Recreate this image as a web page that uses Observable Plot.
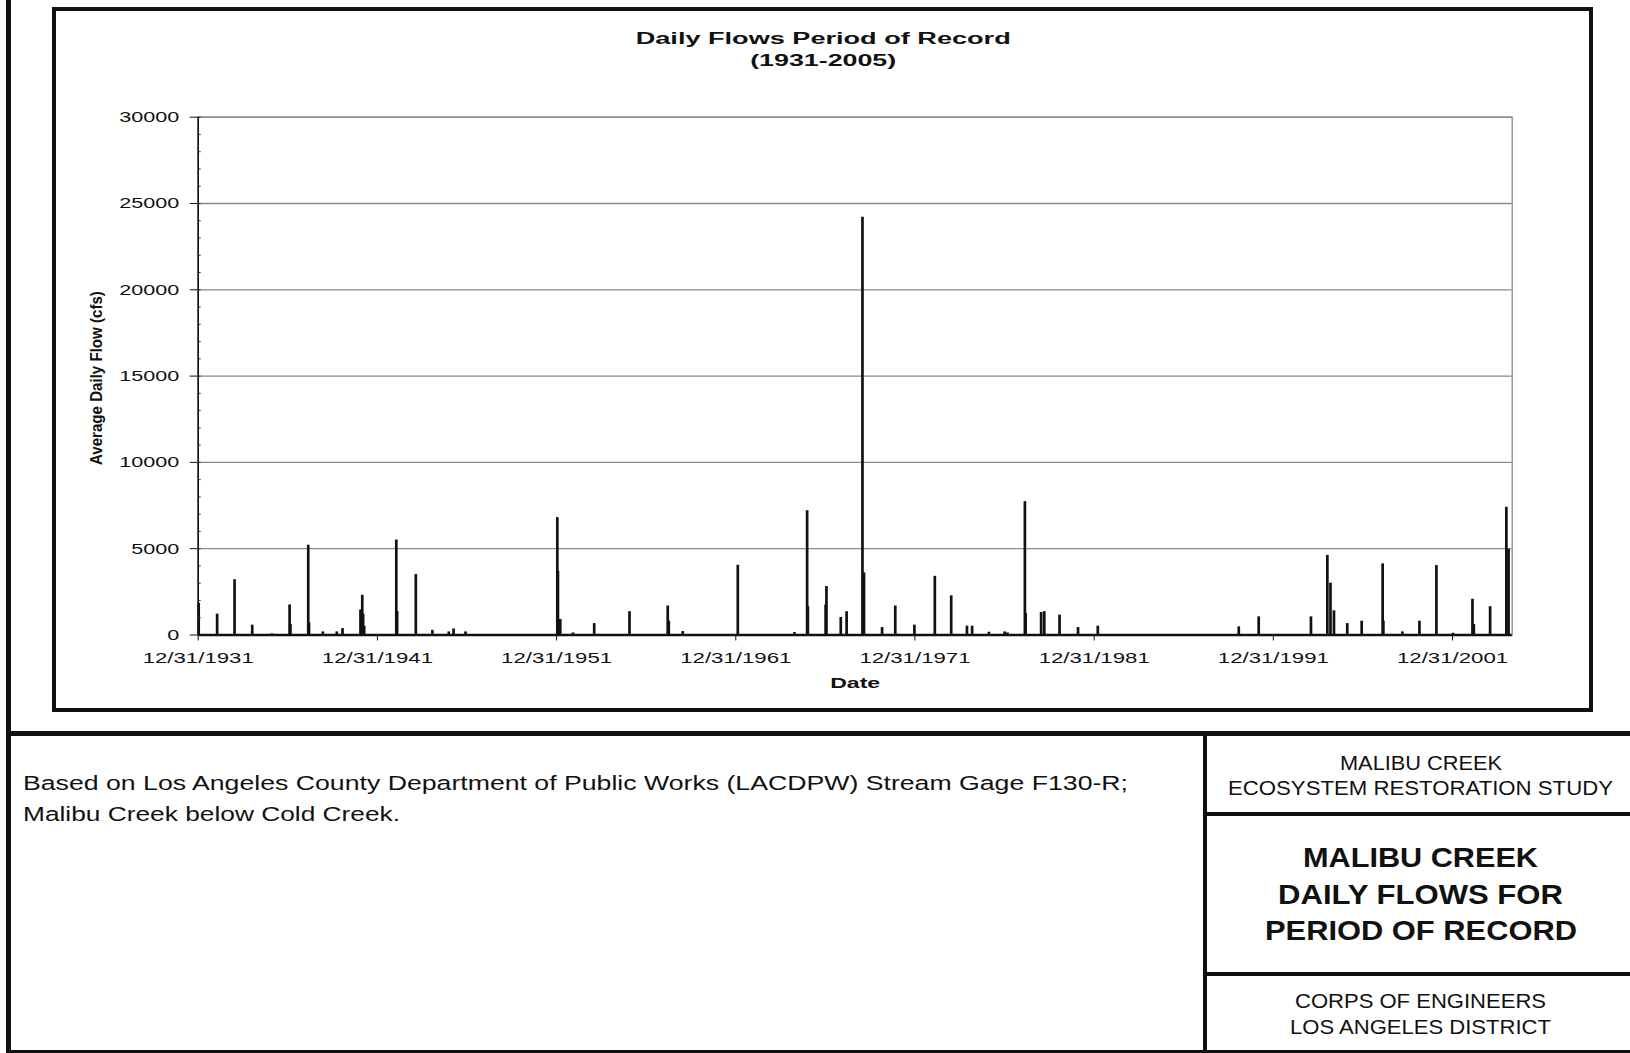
<!DOCTYPE html>
<html>
<head>
<meta charset="utf-8">
<script src="https://cdn.jsdelivr.net/npm/d3@7"></script>
<script src="https://cdn.jsdelivr.net/npm/@observablehq/plot@0.6"></script>
<style>
html, body { margin: 0; padding: 0; background: #fff; }
#page { position: relative; width: 1630px; height: 1053px; overflow: hidden; background: #fff;
  font-family: "Liberation Sans", Arial, sans-serif; color: #111; }
.ln { position: absolute; background: #111; }
.box { position: absolute; border: 4px solid #111; box-sizing: border-box; }
.t { position: absolute; left: 0; top: 0; white-space: nowrap; line-height: 1; transform-origin: 0 0; }
#chart { position: absolute; left: 56px; top: 11px; }
</style>
</head>
<body>
<div id="page">
  <div class="ln" style="left:6px;top:0;width:5px;height:1053px"></div>
  <div class="box" style="left:52px;top:7px;width:1541px;height:705px"></div>
  <div class="ln" style="left:6px;top:731px;width:1624px;height:5px"></div>
  <div class="ln" style="left:1203px;top:734px;width:4px;height:319px"></div>
  <div class="ln" style="left:1205px;top:812px;width:425px;height:4px"></div>
  <div class="ln" style="left:1205px;top:972px;width:425px;height:4px"></div>
  <div class="ln" style="left:6px;top:1050px;width:1624px;height:3px"></div>
  <div id="chart"></div>

  <div class="t" data-x="23" data-cy="783" data-w="1105" data-fs="20.5" data-anchor="start">Based on Los Angeles County Department of Public Works (LACDPW) Stream Gage F130-R;</div>
  <div class="t" data-x="23" data-cy="814" data-w="377" data-fs="20.5" data-anchor="start">Malibu Creek below Cold Creek.</div>

  <div class="t" data-x="1420.5" data-cy="762.5" data-w="162" data-fs="21" data-anchor="middle">MALIBU CREEK</div>
  <div class="t" data-x="1420.5" data-cy="787.5" data-w="385" data-fs="21" data-anchor="middle">ECOSYSTEM RESTORATION STUDY</div>
  <div class="t" style="font-weight:bold" data-x="1420.5" data-cy="858" data-w="235" data-fs="28" data-anchor="middle">MALIBU CREEK</div>
  <div class="t" style="font-weight:bold" data-x="1420.5" data-cy="895" data-w="285" data-fs="28" data-anchor="middle">DAILY FLOWS FOR</div>
  <div class="t" style="font-weight:bold" data-x="1420.5" data-cy="931" data-w="312" data-fs="28" data-anchor="middle">PERIOD OF RECORD</div>
  <div class="t" data-x="1420.5" data-cy="1000.5" data-w="251" data-fs="21" data-anchor="middle">CORPS OF ENGINEERS</div>
  <div class="t" data-x="1420.5" data-cy="1026" data-w="261" data-fs="21" data-anchor="middle">LOS ANGELES DISTRICT</div>
</div>

<script>
// ---- data (daily flow peaks, cfs) ----
const eventDates = [
  "1932-01-10","1933-01-20","1934-01-10","1935-01-05","1936-02-10","1937-02-05","1937-02-22",
  "1938-02-20","1938-03-08","1938-12-15","1939-09-25","1940-01-20","1941-01-20","1941-02-25",
  "1941-03-15","1941-04-05","1943-01-20","1943-02-06","1944-02-22","1945-01-25","1945-12-25",
  "1946-04-01","1946-12-01","1952-01-15","1952-01-28","1952-03-15","1952-12-01","1954-02-05",
  "1956-01-25","1958-03-15","1958-04-05","1959-01-15","1962-02-10","1965-04-10","1965-12-24",
  "1966-01-08","1967-01-05","1967-01-22","1967-11-10","1968-03-08","1969-01-25","1969-02-25",
  "1970-03-01","1970-11-25","1971-12-20","1973-02-08","1974-01-08","1974-11-25","1975-03-10",
  "1976-02-15","1977-01-01","1977-03-01","1978-02-18","1978-03-05","1979-01-15","1979-03-20",
  "1980-01-25","1981-02-05","1982-03-15","1990-01-25","1991-03-08","1994-02-05","1995-01-05",
  "1995-03-10","1995-05-20","1996-02-15","1996-12-05","1998-02-05","1998-02-20","1999-03-15",
  "2000-02-25","2001-02-05","2002-01-10","2003-02-10","2003-03-10","2004-02-05","2005-01-01",
  "2005-02-15"
];
const flows = [
  1840, 1210, 3200, 570, 60, 1740, 600,
  5200, 700, 180, 180, 370, 1450, 2300,
  1200, 500, 5500, 1350, 3500, 270, 180,
  350, 180, 6800, 3700, 900, 120, 660,
  1350, 1680, 800, 200, 4040, 140, 7200,
  1640, 1740, 2810, 1015, 1350, 24200, 3600,
  430, 1680, 570, 3400, 2270, 510, 510,
  160, 180, 120, 7730, 1250, 1300, 1350,
  1150, 430, 510, 470, 1050, 1050, 4610,
  3000, 1400, 660, 800, 4120, 800, 180,
  800, 4020, 100, 2070, 600, 1640, 7400,
  4960
];
const xDomain = ["1931-12-31", "2005-04-30"];
const xTickLabels = ["12/31/1931","12/31/1941","12/31/1951","12/31/1961","12/31/1971","12/31/1981","12/31/1991","12/31/2001"];
const yTicks = [0, 5000, 10000, 15000, 20000, 25000, 30000];
const yMinorTicks = d3.range(0, 30001, 1000);
const chartTitle = "Daily Flows Period of Record";
const chartSubtitle = "(1931-2005)";
const xLabel = "Date";
const yLabel = "Average Daily Flow (cfs)";

// ---- build ----
const parse = d3.utcParse("%Y-%m-%d");
const parseTick = d3.utcParse("%m/%d/%Y");
const events = eventDates.map((d, i) => ({date: parse(d), flow: flows[i]}));
const xTicks = xTickLabels.map(parseTick);
const labelByTime = new Map(xTicks.map((d, i) => [+d, xTickLabels[i]]));
const domain = xDomain.map(parse);

const chart = Plot.plot({
  width: 1533, height: 697,
  marginLeft: 141.7, marginRight: 77.3, marginTop: 105.7, marginBottom: 73.5,
  style: {fontFamily: '"Liberation Sans", Arial, sans-serif', fontSize: "15px", color: "#111", background: "transparent", overflow: "visible"},
  x: {type: "utc", domain},
  y: {domain: [0, 30000]},
  marks: [
    Plot.frame({stroke: "#8a8a8a", strokeWidth: 1.3}),
    Plot.gridY(yTicks, {stroke: "#8a8a8a", strokeOpacity: 1, strokeWidth: 1.3}),
    Plot.ruleX(events, {x: "date", y1: 0, y2: "flow", stroke: "#111", strokeWidth: 2.7}),
    Plot.ruleY([0], {stroke: "#111", strokeWidth: 2.4}),
    Plot.ruleX([domain[0]], {stroke: "#111", strokeWidth: 1.6}),
    Plot.axisY(yMinorTicks, {tickSize: -3, fill: "none", label: null, stroke: "#333"}),
    Plot.axisY(yTicks, {tickSize: 8, tickPadding: 11, label: null, tickFormat: d3.format("d")}),
    Plot.axisX(xTicks, {tickSize: 6, tickPadding: 11, label: null, tickFormat: d => labelByTime.get(+d)}),
    Plot.text([chartTitle], {frameAnchor: "top", dx: -32, dy: -78, lineAnchor: "middle", textAnchor: "middle", fontWeight: "bold", fontSize: 16}),
    Plot.text([chartSubtitle], {frameAnchor: "top", dx: -32, dy: -56.4, lineAnchor: "middle", textAnchor: "middle", fontWeight: "bold", fontSize: 16}),
    Plot.text([xLabel], {frameAnchor: "bottom", dy: 48.5, lineAnchor: "middle", textAnchor: "middle", fontWeight: "bold", fontSize: 15}),
    Plot.text([yLabel], {frameAnchor: "left", dx: -102, dy: 2, rotate: -90, lineAnchor: "middle", textAnchor: "middle", fontWeight: "bold", fontSize: 17})
  ]
});
document.getElementById("chart").appendChild(chart);

// stretch texts horizontally as in the (stretched) reference image
const targets = new Map([[chartTitle, 375], [chartSubtitle, 146], [xLabel, 50], [yLabel, 174]]);
chart.querySelectorAll("text").forEach(t => {
  const s = t.textContent;
  let w = null;
  if (targets.has(s)) w = targets.get(s);
  else if (/^\d+$/.test(s)) w = t.getComputedTextLength() * 1.44;
  else if (/^12\/31\//.test(s)) w = t.getComputedTextLength() * 1.48;
  if (w) { t.setAttribute("textLength", w); t.setAttribute("lengthAdjust", "spacingAndGlyphs"); }
});

document.querySelectorAll("#page .t").forEach(el => {
  const fs = +el.dataset.fs;
  el.style.fontSize = fs + "px";
  const nat = el.getBoundingClientRect().width;
  const w = +el.dataset.w;
  const x0 = el.dataset.anchor === "middle" ? (+el.dataset.x - w / 2) : +el.dataset.x;
  el.style.left = x0 + "px";
  el.style.top = (+el.dataset.cy - 0.49 * fs) + "px";
  el.style.transform = `scaleX(${w / nat})`;
});
</script>
</body>
</html>
